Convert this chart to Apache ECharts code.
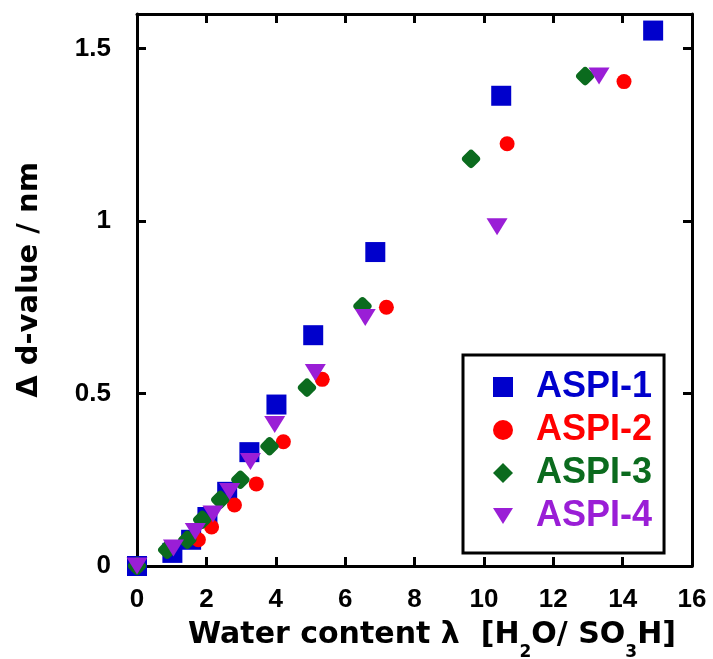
<!DOCTYPE html>
<html>
<head>
<meta charset="utf-8">
<script src="https://cdn.jsdelivr.net/npm/echarts@6/dist/echarts.min.js"></script>
<style>
  html, body { margin: 0; padding: 0; background: #fff; }
  #chart { width: 713px; height: 659px; }
</style>
</head>
<body>
<div id="chart"></div>
<script>
// values
var seriesNames = ['ASPI-1', 'ASPI-2', 'ASPI-3', 'ASPI-4'];
var seriesColors = ['#0000cc', '#ff0000', '#0b6b1e', '#9a1ed6'];

var aspi1X = [0, 1.02, 1.56, 2.03, 2.6, 3.24, 4.02, 5.08, 6.87, 10.5, 14.88];
var aspi1Y = [0, 0.038, 0.076, 0.142, 0.215, 0.33, 0.468, 0.669, 0.91, 1.363, 1.552];

var aspi2X = [0, 1.77, 2.15, 2.81, 3.44, 4.22, 5.34, 7.19, 10.67, 14.04];
var aspi2Y = [0, 0.076, 0.113, 0.177, 0.238, 0.36, 0.541, 0.75, 1.224, 1.404];

var aspi3X = [0, 0.87, 1.45, 1.88, 2.4, 2.98, 3.82, 4.9, 6.5, 9.63, 12.92];
var aspi3Y = [0, 0.047, 0.076, 0.134, 0.192, 0.25, 0.347, 0.517, 0.753, 1.18, 1.42];

var aspi4X = [0, 1.05, 1.68, 2.19, 2.67, 3.27, 3.97, 5.14, 6.58, 10.38, 13.32];
var aspi4Y = [0, 0.052, 0.1, 0.151, 0.216, 0.303, 0.41, 0.561, 0.72, 0.983, 1.42];

var xMin = 0, xMax = 16, xStep = 2;
var yMin = 0, yMax = 1.6, yStep = 0.5;

var FONT = 'Liberation Sans, Arial, sans-serif';
var WIDE = 'DejaVu Sans, sans-serif';

function pairs(xs, ys) {
  return xs.map(function (x, i) { return [x, ys[i]]; });
}

function frameAxis(extra) {
  var base = {
    type: 'value',
    splitLine: { show: false },
    axisLine: { show: true, onZero: false, lineStyle: { color: '#000', width: 3 } },
    axisTick: { show: true, inside: true, length: 9, lineStyle: { color: '#000', width: 3 } }
  };
  return Object.assign(base, extra);
}

var chart = echarts.init(document.getElementById('chart'));

var symbols = [
  { symbol: 'rect', symbolSize: 20, symbolRotate: 0 },
  { symbol: 'circle', symbolSize: 15, symbolRotate: 0 },
  { symbol: 'roundRect', symbolSize: 15, symbolRotate: 45 },
  { symbol: 'triangle', symbolSize: [21, 17], symbolRotate: 180 }
];
// legend icons (down triangle drawn as a path so it points the right way)
var legendIcons = ['rect', 'circle', 'path://M10,0L20,10L10,20L0,10Z', 'path://M0,0L21,0L10.5,17Z'];
var dataSets = [pairs(aspi1X, aspi1Y), pairs(aspi2X, aspi2Y), pairs(aspi3X, aspi3Y), pairs(aspi4X, aspi4Y)];

var series = seriesNames.map(function (name, i) {
  return {
    name: name,
    type: 'scatter',
    clip: false,
    symbol: symbols[i].symbol,
    symbolSize: symbols[i].symbolSize,
    symbolRotate: symbols[i].symbolRotate,
    itemStyle: { color: seriesColors[i], opacity: 1 },
    emphasis: { disabled: true },
    data: dataSets[i]
  };
});

chart.setOption({
  animation: false,
  backgroundColor: '#fff',
  grid: { left: 137, right: 21, top: 14, bottom: 93 },
  xAxis: [
    frameAxis({
      position: 'bottom', min: xMin, max: xMax, interval: xStep,
      axisLabel: { margin: 21, color: '#000', fontSize: 26, fontWeight: 'bold', fontFamily: FONT }
    }),
    frameAxis({ position: 'top', min: xMin, max: xMax, interval: xStep, axisLabel: { show: false } })
  ],
  yAxis: [
    frameAxis({
      position: 'left', min: yMin, max: yMax, interval: yStep,
      axisLabel: {
        margin: 26, color: '#000', fontSize: 26, fontWeight: 'bold', fontFamily: FONT,
        formatter: function (v) { return v > 1.55 ? '' : String(v); }
      }
    }),
    frameAxis({ position: 'right', min: yMin, max: yMax, interval: yStep, axisLabel: { show: false } })
  ],
  legend: {
    orient: 'vertical',
    left: 463,
    top: 355,
    padding: [14, 12, 19, 30],
    itemGap: 7,
    itemWidth: 20,
    itemHeight: 20,
    symbolKeepAspect: true,
    backgroundColor: '#fff',
    borderColor: '#000',
    borderWidth: 3,
    borderRadius: 0,
    selectedMode: false,
    textStyle: { fontSize: 36, fontWeight: 'bold', fontFamily: FONT, padding: [0, 0, 0, 18] },
    data: seriesNames.map(function (n, i) {
      return { name: n, icon: legendIcons[i], textStyle: { color: seriesColors[i] } };
    })
  },
  graphic: [
    {
      type: 'text',
      x: 29, y: 280,
      rotation: Math.PI / 2,
      style: {
        text: 'Δ d-value / nm',
        font: 'bold 29px ' + WIDE,
        fill: '#000',
        align: 'center',
        verticalAlign: 'middle'
      }
    },
    {
      type: 'text',
      x: 432, y: 635,
      style: {
        text: '{a|Water content λ  [H}{s|2}{a|O/ SO}{s|3}{a|H]}',
        align: 'center',
        verticalAlign: 'middle',
        rich: {
          a: { font: 'bold 30px ' + WIDE, fill: '#000', lineHeight: 30 },
          s: { font: 'bold 17px ' + WIDE, fill: '#000', lineHeight: 17, padding: [36, 0, 0, 0] }
        }
      }
    }
  ],
  series: series
});
</script>
</body>
</html>
